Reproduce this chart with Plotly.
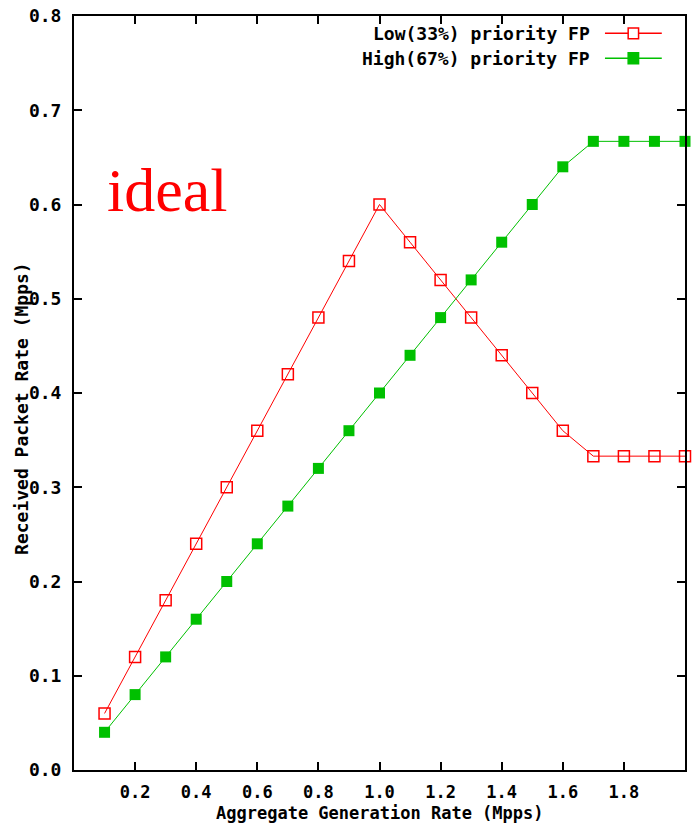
import plotly.graph_objects as go

rate = [0.1, 0.2, 0.3, 0.4, 0.5, 0.6, 0.7, 0.8, 0.9, 1.0,
        1.1, 1.2, 1.3, 1.4, 1.5, 1.6, 1.7, 1.8, 1.9, 2.0]
low_fp = [0.06, 0.12, 0.18, 0.24, 0.30, 0.36, 0.42, 0.48, 0.54, 0.60,
          0.56, 0.52, 0.48, 0.44, 0.40, 0.36, 0.333, 0.333, 0.333, 0.333]
high_fp = [0.04, 0.08, 0.12, 0.16, 0.20, 0.24, 0.28, 0.32, 0.36, 0.40,
           0.44, 0.48, 0.52, 0.56, 0.60, 0.64, 0.667, 0.667, 0.667, 0.667]
series_names = ["Low(33%) priority FP", "High(67%) priority FP"]
x_ticks = [0.2, 0.4, 0.6, 0.8, 1.0, 1.2, 1.4, 1.6, 1.8]
y_ticks = [0.0, 0.1, 0.2, 0.3, 0.4, 0.5, 0.6, 0.7, 0.8]

RED = "#ff0000"
GREEN = "#00c000"
MONO = dict(family="DejaVu Sans Mono", size=18, color="black", weight="bold")
MONO_X = dict(family="DejaVu Sans Mono", size=17, color="black", weight="bold")

fig = go.Figure()
fig.add_trace(go.Scatter(
    x=rate, y=low_fp, mode="lines+markers", name=series_names[0],
    line=dict(color=RED, width=1),
    marker=dict(symbol="square-open", size=11, color=RED, line=dict(width=1.5, color=RED)),
    cliponaxis=False,
))
fig.add_trace(go.Scatter(
    x=rate, y=high_fp, mode="lines+markers", name=series_names[1],
    line=dict(color=GREEN, width=1),
    marker=dict(symbol="square", size=11, color=GREEN, line=dict(width=0)),
    cliponaxis=False,
))

axis_common = dict(
    showline=True, linecolor="black", linewidth=2, mirror="ticks",
    ticks="inside", ticklen=8, tickwidth=1.5, tickcolor="black",
    showgrid=False, zeroline=False,
)
fig.update_xaxes(range=[0, 2.0], tickvals=x_ticks,
                 ticktext=[f"{v:.1f}" for v in x_ticks],
                 ticklabelstandoff=6, tickfont=MONO_X, **axis_common)
fig.update_yaxes(range=[0, 0.8], tickvals=y_ticks,
                 ticktext=[f"{v:.1f}" for v in y_ticks],
                 ticklabelstandoff=7, tickfont=MONO, **axis_common)

annotations = [
    dict(text="Aggregate Generation Rate (Mpps)", xref="paper", yref="paper",
         x=0.5, y=-0.0565, xanchor="center", yanchor="middle", showarrow=False, font=MONO_X),
    dict(text="Received Packet Rate (Mpps)", xref="paper", yref="paper",
         x=-0.087, y=0.48, xanchor="center", yanchor="middle", textangle=-90,
         showarrow=False, font=MONO),
    dict(text="ideal", xref="paper", yref="paper", x=0.05, y=0.769,
         xanchor="left", yanchor="middle", showarrow=False,
         font=dict(family="Liberation Serif", size=62, color=RED)),
]
shapes = []
# manual legend (text left, sample right, like gnuplot)
leg_rows = [(series_names[0], RED, False, 0.977), (series_names[1], GREEN, True, 0.944)]
for name, col, filled, yy in leg_rows:
    annotations.append(dict(text=name, xref="paper", yref="paper", x=0.847, y=yy,
                            xanchor="right", yanchor="middle", showarrow=False, font=MONO))
    shapes.append(dict(type="line", xref="paper", yref="paper", x0=0.869, x1=0.962,
                       y0=yy, y1=yy, line=dict(color=col, width=1.5)))
    shapes.append(dict(type="rect", xref="paper", yref="paper",
                       x0=0.9155 - 0.0085, x1=0.9155 + 0.0085,
                       y0=yy - 0.0072, y1=yy + 0.0072,
                       line=dict(color=col, width=1.5),
                       fillcolor=col if filled else "white"))

fig.update_layout(
    width=692, height=823,
    margin=dict(l=74, r=7, t=16, b=53, autoexpand=False),
    plot_bgcolor="white", paper_bgcolor="white",
    showlegend=False,
    annotations=annotations, shapes=shapes,
)
# remove the default 8px page margin so the figure fills the window exactly
fig.write_html(
    "out.html",
    config={"displayModeBar": False},
    post_script="document.body.style.margin='0';"
                "document.documentElement.style.overflow='hidden';",
)
